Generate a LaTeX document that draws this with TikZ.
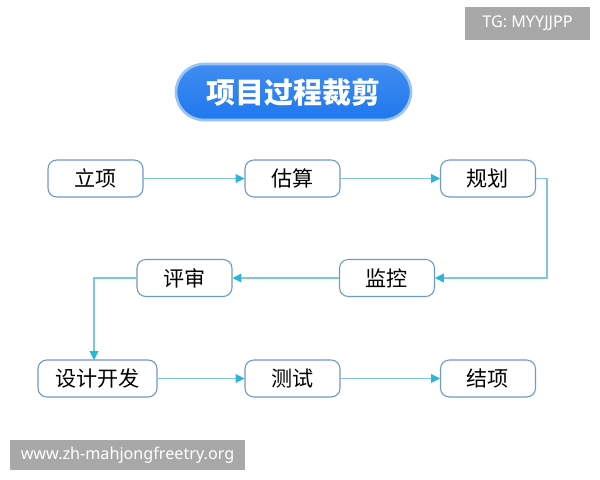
\documentclass[tikz,border=0pt]{standalone}
\usepackage{fontspec}
\setmainfont{Noto Sans CJK SC}
\setsansfont{Noto Sans}
\usetikzlibrary{arrows.meta}
\definecolor{boxline}{HTML}{6E98C8}
\definecolor{flowline}{HTML}{7FC6DA}
\definecolor{flowtip}{HTML}{2BB5D8}
\definecolor{titleblue}{HTML}{1F78EE}
\definecolor{markgray}{HTML}{A8A8A8}
\tikzset{
  stepbox/.style = {shape=rectangle, rounded corners=5pt,
                    draw=boxline, fill=white, line width=0.6pt,
                    minimum width=1.9cm, minimum height=0.74cm,
                    font=\large},
  widebox/.style = {stepbox, minimum width=2.38cm},
  flow/.style    = {draw=flowline, line width=0.6pt,
                    -{Triangle[length=5pt,width=5pt,fill=flowtip,color=flowtip]}},
  title/.style   = {shape=rectangle, rounded corners=0.56cm,
                    draw=titleblue!45, line width=1.5pt,
                    top color=titleblue!85, bottom color=titleblue,
                    text=white, font=\fontsize{16.5}{20}\selectfont\bfseries,
                    minimum width=4.7cm, minimum height=1.12cm},
  tagbox/.style  = {fill=markgray, text=white, inner sep=0pt,
                    font=\sffamily\fontsize{9.2}{11}\selectfont}
}
\begin{document}
\begin{tikzpicture}[x=0.02cm, y=-0.02cm]
  \useasboundingbox (0,0) rectangle (600,480);
  % header and watermarks
  \node [tagbox, minimum width=2.5cm, minimum height=0.66cm] (tg) at (527.5,23.5) {TG: MYYJJPP};
  \node [tagbox, minimum width=4.7cm, minimum height=0.6cm] (site) at (127.5,455) {www.zh-mahjongfreetry.org};
  \node [title] (head) at (293.5,92) {项目过程裁剪};
  % first row
  \node [stepbox] (lixiang)  at (95.5,178.5) {立项};
  \node [stepbox] (gusuan)   at (292.5,178.5) {估算};
  \node [stepbox] (guihua)   at (488,178.5) {规划};
  % second row
  \node [stepbox] (jiankong) at (387,278) {监控};
  \node [stepbox] (pingshen) at (184.5,278) {评审};
  % third row
  \node [widebox] (sheji)    at (97.5,378.5) {设计开发};
  \node [stepbox] (ceshi)    at (292.5,378.5) {测试};
  \node [stepbox] (jiexiang) at (488,378.5) {结项};
  \coordinate (turnright) at (547,278);
  \coordinate (shejitop) at (94,360);
  % connectors
  \draw [flow] (lixiang) -- (gusuan);
  \draw [flow] (gusuan) -- (guihua);
  \draw [flow] (guihua.east) -| (turnright) -- (jiankong.east);
  \draw [flow] (jiankong) -- (pingshen);
  \draw [flow] (pingshen.west) -| (shejitop);
  \draw [flow] (sheji) -- (ceshi);
  \draw [flow] (ceshi) -- (jiexiang);
\end{tikzpicture}
\end{document}
